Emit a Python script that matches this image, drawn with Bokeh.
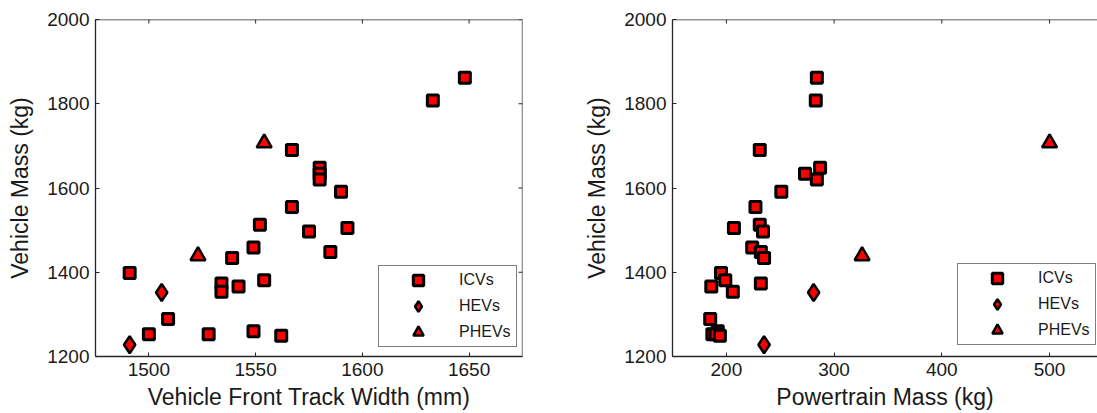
import math
from bokeh.plotting import figure
from bokeh.layouts import row
from bokeh.models import FixedTicker, Range1d, Legend, LegendItem, Span
from bokeh.embed import file_html
from bokeh.resources import INLINE

# ---- data ----
icv_vehicle_mass = [1862, 1808, 1690, 1648, 1634, 1620, 1591, 1555, 1513, 1505, 1497, 1459,
                    1448, 1434, 1398, 1381, 1373, 1366, 1354, 1289, 1260, 1253, 1253, 1249]
icv_track_width = [1648, 1633, 1567, 1580, 1580, 1580, 1590, 1567, 1552, 1593, 1575, 1549,
                   1585, 1539, 1491, 1554, 1534, 1542, 1534, 1509, 1549, 1500, 1528, 1562]
icv_powertrain = [284, 283, 231, 287, 273, 284, 251, 227, 231, 207, 234, 224,
                  232, 235, 195, 199, 232, 186, 206, 185, 192, 187, 190, 194]
hev_vehicle_mass = [1352, 1228]
hev_track_width = [1506, 1491]
hev_powertrain = [281, 235]
phev_vehicle_mass = [1439, 1707]
phev_track_width = [1523, 1554]
phev_powertrain = [326, 500]

y_ticks = [1200, 1400, 1600, 1800, 2000]
left_x_ticks = [1500, 1550, 1600, 1650]
right_x_ticks = [200, 300, 400, 500]
legend_labels = ["ICVs", "HEVs", "PHEVs"]
y_limits = (1200, 2000)

FONT = "Liberation Sans"
TXT = "#1a1a1a"
LINE = "#262626"


def style_axis(ax):
    ax.major_tick_in = 4
    ax.major_tick_out = 0
    ax.minor_tick_line_color = None
    ax.axis_line_color = LINE
    ax.axis_line_width = 1.3
    ax.major_tick_line_color = LINE
    ax.major_tick_line_width = 1
    ax.major_label_text_font = FONT
    ax.major_label_text_font_size = "19px"
    ax.major_label_text_color = TXT
    ax.major_label_standoff = 6
    ax.axis_label_text_font = FONT
    ax.axis_label_text_font_size = "23px"
    ax.axis_label_text_font_style = "normal"
    ax.axis_label_text_color = TXT


def make_fig(width, min_left, min_right, xr, xticks, xlabel, xs, legend_loc, right_side):
    p = figure(width=width, height=413, x_range=Range1d(*xr), y_range=Range1d(*y_limits),
               output_backend="svg", toolbar_location=None, title=None,
               min_border_left=min_left, min_border_right=min_right,
               min_border_top=19, min_border_bottom=57)
    p.outline_line_color = None
    p.grid.visible = False
    p.background_fill_color = "white"
    p.border_fill_color = "white"

    p.xaxis[0].ticker = FixedTicker(ticks=xticks)
    p.yaxis[0].ticker = FixedTicker(ticks=y_ticks)
    p.xaxis[0].axis_label = xlabel
    p.yaxis[0].axis_label = "Vehicle Mass (kg)"
    style_axis(p.xaxis[0])
    style_axis(p.yaxis[0])
    p.xaxis[0].axis_label_standoff = 5
    p.yaxis[0].axis_label_standoff = 11

    # box top (and right for the left panel), with inward ticks
    p.add_layout(Span(location=y_limits[1], dimension="width", line_color=LINE, line_width=1.3))
    p.ray(x=xticks, y=[y_limits[1]] * len(xticks), length=4, angle=-math.pi / 2,
          length_units="screen", line_color=LINE, line_width=1)
    if right_side:
        p.add_layout(Span(location=xr[1], dimension="height", line_color=LINE, line_width=1.3))
        p.ray(x=[xr[1]] * len(y_ticks), y=y_ticks, length=4, angle=math.pi,
              length_units="screen", line_color=LINE, line_width=1)

    r1 = p.scatter(xs[0], icv_vehicle_mass, marker="square", size=11,
                   fill_color="#ff0000", line_color="black", line_width=3)
    r2 = p.scatter(xs[1], hev_vehicle_mass, marker="diamond", size=17,
                   fill_color="#ff0000", line_color="black", line_width=2.5)
    r3 = p.scatter(xs[2], phev_vehicle_mass, marker="triangle", size=15,
                   fill_color="#ff0000", line_color="black", line_width=2.5)

    legend = Legend(items=[LegendItem(label=legend_labels[0], renderers=[r1]),
                           LegendItem(label=legend_labels[1], renderers=[r2]),
                           LegendItem(label=legend_labels[2], renderers=[r3])],
                    location=legend_loc, margin=0, padding=1, spacing=0,
                    glyph_width=76, glyph_height=26, label_height=26, label_width=56,
                    label_standoff=3, border_line_color="black", border_line_width=1,
                    background_fill_color="white", background_fill_alpha=1,
                    label_text_font=FONT, label_text_font_size="16px",
                    label_text_color=TXT)
    p.add_layout(legend)
    return p


p1 = make_fig(550, 95, 28, (1475, 1675), left_x_ticks, "Vehicle Front Track Width (mm)",
              [icv_track_width, hev_track_width, phev_track_width], (283, 9), True)
p2 = make_fig(547, 122, 0, (150, 544.5), right_x_ticks, "Powertrain Mass (kg)",
              [icv_powertrain, hev_powertrain, phev_powertrain], (285, 11), False)

layout = row(p1, p2)
open("out.html", "w").write(file_html(layout, INLINE))
